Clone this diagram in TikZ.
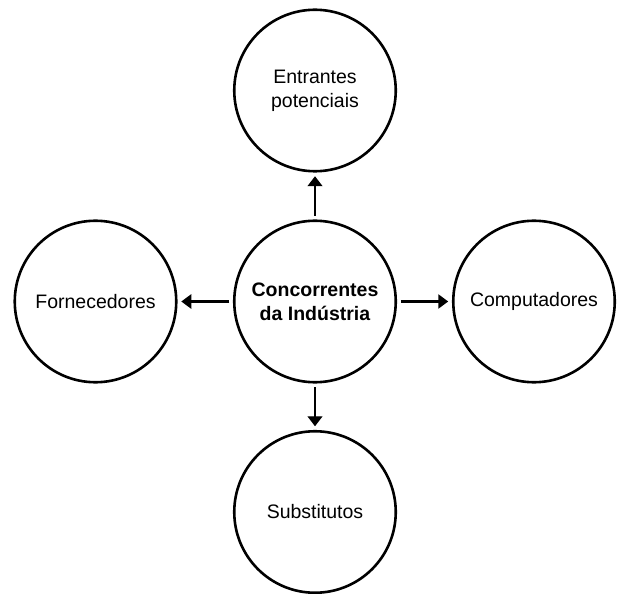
\documentclass[tikz,border=0pt]{standalone}
\usepackage{fontspec}
\setmainfont{Liberation Sans}
\usetikzlibrary{arrows.meta}
\tikzset{%
  bubble/.style={draw,shape=circle,line width=2.6,minimum size=161.5,inner sep=0,outer sep=5,align=center,font=\fontsize{19.5}{24}\selectfont},
  hedge/.style={draw,line width=2.5,-{Triangle[length=10,width=14]}},
  vedge/.style={draw,line width=1.3,-{Triangle[length=10,width=15]}}
}

\begin{document}
\begin{tikzpicture}[x=1pt,y=-1pt]
    \useasboundingbox (0,0) rectangle (617,593);
    \path
      (315,301.5) node[bubble] (conc) {\bfseries Concorrentes\\\bfseries da Indústria}
      (315,90.5) node[bubble] (entr) {Entrantes\\potenciais}
      (95.5,301.5) node[bubble] (forn) {Fornecedores}
      (534,301.5) node[bubble] (comp) {Computadores}
      (315,512) node[bubble] (subs) {Substitutos};
    \draw[vedge] (conc) -- (entr);
    \draw[vedge] (conc) -- (subs);
    \draw[hedge] (conc) -- (forn);
    \draw[hedge] (conc) -- (comp);
  \end{tikzpicture}
\end{document}
